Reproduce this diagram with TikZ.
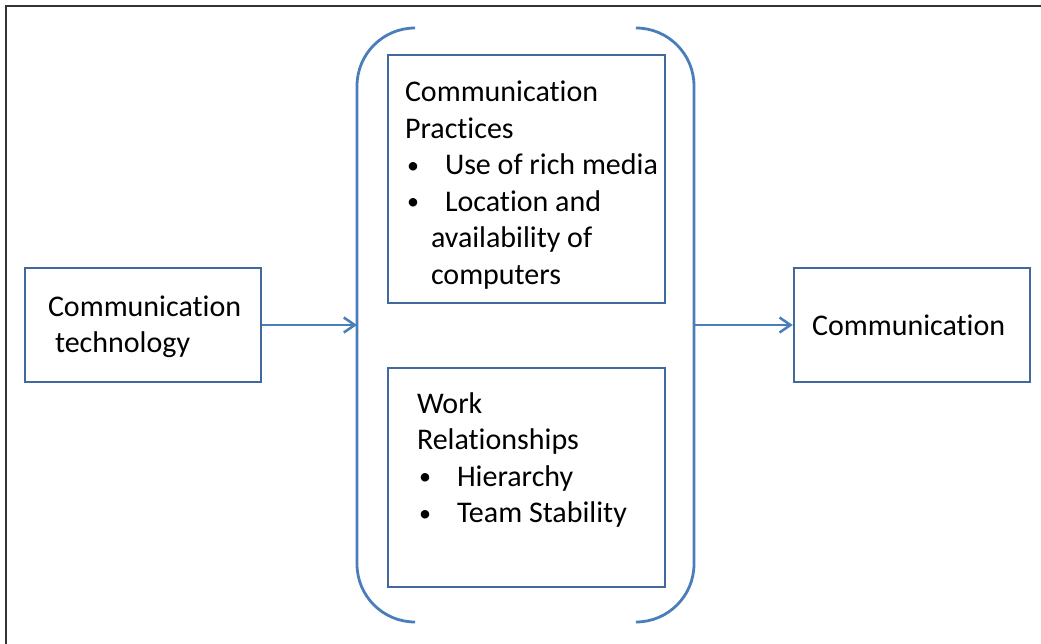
\documentclass[tikz,border=0pt]{standalone}
\usepackage{fontspec}
\setmainfont{Carlito}[RawFeature={-liga;-clig;-calt;-dlig}]
\usetikzlibrary{arrows.meta, positioning, calc}
\definecolor{boxblue}{HTML}{41699D}
\definecolor{linkblue}{HTML}{4A7EBB}
\tikzset{
    box/.style = {rectangle, draw=boxblue, line width=2.5pt, inner sep=0pt, font=\fontsize{30}{36.5}\selectfont},% boxes of the model
    link/.style = {draw=linkblue, line width=2.5pt, -{Straight Barb[length=11pt,width=15pt]}},
    bracket/.style = {draw=linkblue, line width=2.8pt, rounded corners=58pt}% the round brackets around the middle
}
\newcommand{\bitem}[1]{\makebox[40pt][l]{\hspace{2pt}\raisebox{1.5pt}{\scalebox{0.8}{\textbullet}}}\mbox{#1}}
% text of a box: width, height, left space, space above, lines
\newcommand{\boxtext}[5]{\parbox[c][#2][t]{#1}{\raggedright\leftskip=#3\relax\vspace*{#4}\strut #5}}
\begin{document}
\begin{tikzpicture}[x=1pt, y=-1pt]
    \useasboundingbox (0,0) rectangle (1041,644);
    \draw[black!80, line width=2pt] (6,644) -- (6,6) -- (1041,6);
    \node[box] (tech) at (143,325) {\boxtext{236pt}{114pt}{23pt}{22.5pt}{Communication\\ \hspace*{7pt}technology}};
    \node[box] (comm) at (912,325) {\boxtext{236pt}{114pt}{18pt}{41.5pt}{Communication}};
    \node[box] (practices) at (526.5,179) {\boxtext{277pt}{248pt}{17pt}{21pt}{Communication\\ Practices\\
        \bitem{Use of rich media}\\ \bitem{Location and}\\ \hspace*{26pt}availability of\\ \hspace*{26pt}computers}};
    \node[box] (relations) at (526.5,477.5) {\boxtext{277pt}{219pt}{29pt}{19.5pt}{Work\\ Relationships\\
        \bitem{Hierarchy}\\ \bitem{Team Stability}}};
    % brackets
    \draw[bracket] (413,28) -- (357,28) -- (357,622) -- (413,622);
    \draw[bracket] (638,28) -- (694,28) -- (694,622) -- (638,622);
    \coordinate (lbrace) at (357,325);
    \coordinate (rbrace) at (694,325);
    \draw[link] (tech.east) -- (lbrace);
    \draw[link] (rbrace) -- (comm.west);
\end{tikzpicture}
\end{document}
